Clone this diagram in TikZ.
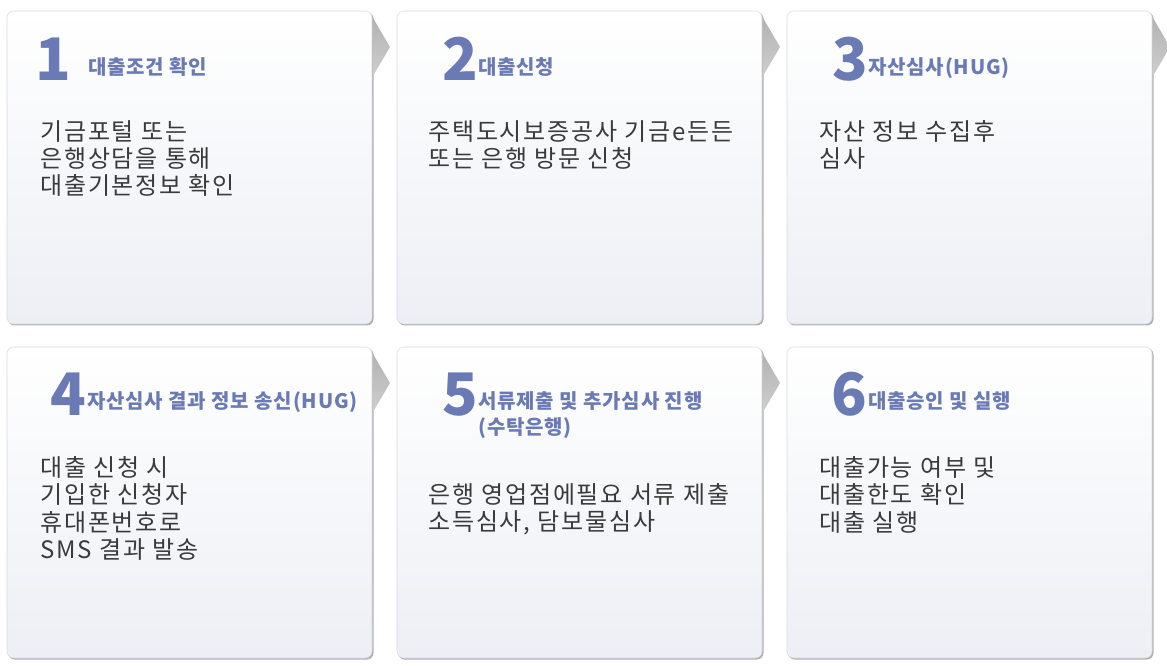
\documentclass[tikz,border=0pt]{standalone}
\usepackage{fontspec}
\setmainfont{Noto Sans CJK KR}
\newfontfamily\stepbodyfont[LetterSpace=7.5]{Noto Sans CJK KR}
\newfontfamily\steptitlefont[LetterSpace=4]{Noto Sans CJK KR}
\definecolor{stepblue}{RGB}{106,122,181}
\definecolor{bodygray}{RGB}{58,58,58}
\definecolor{cardbottom}{RGB}{237,239,245}
\definecolor{cardline}{RGB}{218,218,222}
\definecolor{cardshadow}{RGB}{176,176,180}

\begin{document}
\begin{tikzpicture}[x=0.75pt,y=-0.75pt,
    cardback/.style={fill=cardshadow, rounded corners=5},
    cardshade/.style={top color=white, bottom color=cardbottom, draw=cardline, rounded corners=5},
    pointer/.style={top color=black!30, bottom color=black!19},
    stepnum/.style={anchor=base west, inner sep=0pt, text=stepblue, font=\fontsize{44pt}{44pt}\selectfont\bfseries},
    steptitle/.style={anchor=base west, inner sep=0pt, text=stepblue, align=left, font=\steptitlefont\fontsize{15pt}{20.25pt}\selectfont\bfseries},
    stepbody/.style={anchor=base west, inner sep=0pt, text=bodygray, align=left, font=\stepbodyfont\fontsize{18pt}{20.6pt}\selectfont}]
    \useasboundingbox (0,0) rectangle (1167,666);

    \fill[cardback] (8,12) rectangle (373.5,325.5);
    \shade[cardshade] (7,11) rectangle (372,324);
    \fill[cardback] (398,12) rectangle (763.5,325.5);
    \shade[cardshade] (397,11) rectangle (762,324);
    \fill[cardback] (788,12) rectangle (1153.5,325.5);
    \shade[cardshade] (787,11) rectangle (1152,324);

    \fill[cardback] (8,348) rectangle (373.5,659.5);
    \shade[cardshade] (7,347) rectangle (372,658);
    \fill[cardback] (398,348) rectangle (763.5,659.5);
    \shade[cardshade] (397,347) rectangle (762,658);
    \fill[cardback] (788,348) rectangle (1153.5,659.5);
    \shade[cardshade] (787,347) rectangle (1152,658);

    \shade[pointer] (373,18) -- (390,47) -- (373,76) -- cycle;
    \shade[pointer] (763,18) -- (780,47) -- (763,76) -- cycle;
    \shade[pointer] (1153,18) -- (1170,47) -- (1153,76) -- cycle;
    \shade[pointer] (373,354) -- (390,383) -- (373,412) -- cycle;
    \shade[pointer] (763,354) -- (780,383) -- (763,412) -- cycle;

    \node[stepnum] (num1) at (35,81) {1};
    \node[steptitle] (title1) at (88,75) {대출조건 확인};
    \node[stepbody] (body1) at (40,195) {기금포털 또는\\은행상담을 통해\\대출기본정보 확인};

    \node[stepnum] (num2) at (442,81) {2};
    \node[steptitle] (title2) at (478,75) {대출신청};
    \node[stepbody] (body2) at (428,167.5) {주택도시보증공사 기금e든든\\또는 은행 방문 신청};

    \node[stepnum] (num3) at (832,81) {3};
    \node[steptitle] (title3) at (868,75) {자산심사(HUG)};
    \node[stepbody] (body3) at (819,167.5) {자산 정보 수집후\\심사};

    \node[stepnum] (num4) at (50,416) {4};
    \node[steptitle] (title4) at (87,408) {자산심사 결과 정보 송신(HUG)};
    \node[stepbody] (body4) at (40,558.5) {대출 신청 시\\기입한 신청자\\휴대폰번호로\\SMS 결과 발송};

    \node[stepnum] (num5) at (442,416) {5};
    \node[steptitle] (title5) at (478,435) {서류제출 및 추가심사 진행\\(수탁은행)};
    \node[stepbody] (body5) at (428,530.5) {은행 영업점에필요 서류 제출\\소득심사, 담보물심사};

    \node[stepnum] (num6) at (831,416) {6};
    \node[steptitle] (title6) at (868,408) {대출승인 및 실행};
    \node[stepbody] (body6) at (819,531) {대출가능 여부 및\\대출한도 확인\\대출 실행};
\end{tikzpicture}
\end{document}
